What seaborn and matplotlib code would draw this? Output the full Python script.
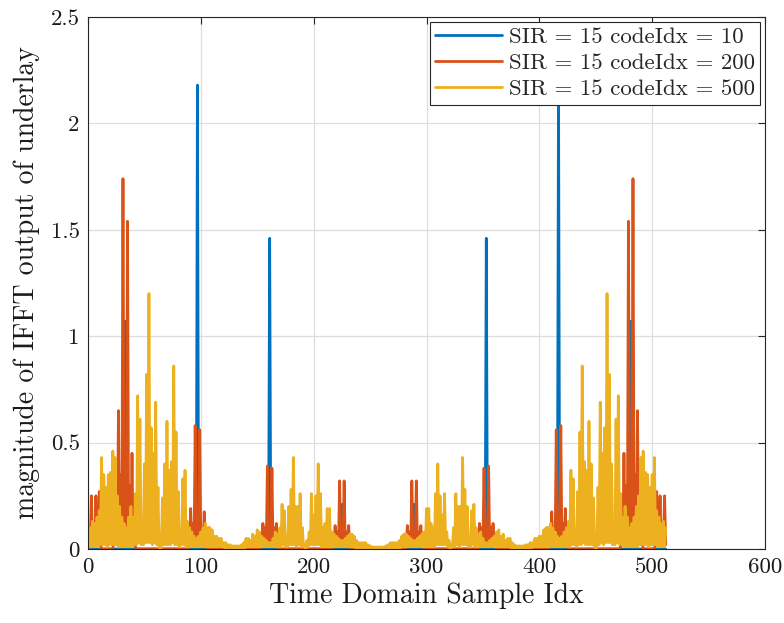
import numpy as np
import pandas as pd
import matplotlib
matplotlib.use("Agg")
import matplotlib.pyplot as plt
import seaborn as sns

# ---------------- data ----------------
series_labels = ["SIR = 15 codeIdx = 10",
                 "SIR = 15 codeIdx = 200",
                 "SIR = 15 codeIdx = 500"]
colors = ["#0072BD", "#D95319", "#EDB120"]
n_samples = 512

# codeIdx = 10 : sparse spikes (sample index -> magnitude), zero elsewhere
blue_idx = [33, 97, 161, 225, 289, 353, 417, 481]
blue_val = [1.07, 2.18, 1.46, 0.21, 0.21, 1.46, 2.18, 1.07]

# codeIdx = 200 : clusters of spikes (sample index -> magnitude), zero elsewhere
orange_idx = [2, 3, 4, 5, 6, 7, 8, 9, 10, 11,
              23, 24, 25, 26, 27, 28, 29, 30, 31, 32, 33, 34, 35, 36, 37, 38, 39, 40, 41, 42,
              89, 90, 91, 92, 93, 94, 95, 96, 97, 98, 99, 100, 101, 102, 103, 104, 105, 107,
              153, 154, 155, 156, 157, 158, 159, 160, 161, 162, 163, 164, 165, 166, 167, 168,
              217, 218, 219, 220, 221, 222, 223, 224, 225, 226, 227, 228, 229, 230, 231, 232,
              282, 283, 284, 285, 286, 287, 288, 289, 290, 291, 292, 293, 294, 295, 296, 297,
              346, 347, 348, 349, 350, 351, 352, 353, 354, 355, 356, 357, 358, 359, 360, 361,
              407, 409, 410, 411, 412, 413, 414, 415, 416, 417, 418, 419, 420, 421, 422, 423, 424, 425,
              472, 473, 474, 475, 476, 477, 478, 479, 480, 481, 482, 483, 484, 485, 486, 487, 488, 489, 490, 491,
              503, 504, 505, 506, 507, 508, 509, 510, 511, 512]
orange_val = [0.02, 0.25, 0.03, 0.12, 0.02, 0.25, 0.02, 0.05, 0.27, 0.02,
              0.05, 0.02, 0.20, 0.02, 0.65, 0.02, 0.35, 0.03, 1.74, 0.05, 0.02, 0.05, 1.54, 0.03, 0.30, 0.02, 0.45, 0.02, 0.10, 0.01,
              0.08, 0.01, 0.19, 0.01, 0.12, 0.02, 0.58, 0.03, 0.01, 0.03, 0.56, 0.02, 0.10, 0.01, 0.175, 0.01, 0.06, 0.10,
              0.04, 0.01, 0.12, 0.01, 0.10, 0.02, 0.39, 0.02, 0.01, 0.02, 0.38, 0.02, 0.10, 0.01, 0.12, 0.01,
              0.03, 0.01, 0.11, 0.01, 0.08, 0.01, 0.32, 0.02, 0.01, 0.02, 0.32, 0.01, 0.08, 0.01, 0.11, 0.01,
              0.01, 0.11, 0.01, 0.08, 0.01, 0.32, 0.02, 0.01, 0.02, 0.32, 0.01, 0.08, 0.01, 0.11, 0.01, 0.03,
              0.01, 0.12, 0.01, 0.10, 0.02, 0.38, 0.02, 0.01, 0.02, 0.39, 0.02, 0.10, 0.01, 0.12, 0.01, 0.04,
              0.10, 0.06, 0.01, 0.175, 0.01, 0.10, 0.02, 0.56, 0.03, 0.01, 0.03, 0.58, 0.02, 0.12, 0.01, 0.19, 0.01, 0.08,
              0.01, 0.10, 0.02, 0.45, 0.02, 0.30, 0.03, 1.54, 0.05, 0.02, 0.05, 1.74, 0.03, 0.35, 0.02, 0.65, 0.02, 0.20, 0.02, 0.05,
              0.02, 0.27, 0.05, 0.02, 0.25, 0.02, 0.12, 0.03, 0.25, 0.02]

# codeIdx = 500 : magnitude at every sample 1..512
yellow_val = [
    0.01, 0.10, 0.01, 0.13, 0.01, 0.12, 0.01, 0.15, 0.01, 0.18,
    0.02, 0.43, 0.02, 0.35, 0.02, 0.29, 0.01, 0.35, 0.02, 0.36,
    0.02, 0.46, 0.02, 0.43, 0.02, 0.25, 0.01, 0.20, 0.01, 0.15,
    0.01, 0.12, 0.01, 0.10, 0.01, 0.15, 0.01, 0.20, 0.01, 0.15,
    0.02, 0.26, 0.02, 0.72, 0.03, 0.61, 0.02, 0.10, 0.02, 0.40,
    0.03, 0.82, 0.03, 1.20, 0.03, 0.57, 0.02, 0.45, 0.03, 0.69,
    0.02, 0.29, 0.01, 0.00, 0.01, 0.24, 0.02, 0.40, 0.02, 0.60,
    0.02, 0.37, 0.02, 0.41, 0.03, 0.86, 0.02, 0.55, 0.02, 0.27,
    0.01, 0.08, 0.02, 0.33, 0.02, 0.37, 0.01, 0.13, 0.01, 0.10,
    0.01, 0.08, 0.01, 0.06, 0.01, 0.05, 0.01, 0.06, 0.01, 0.08,
    0.01, 0.10, 0.01, 0.12, 0.01, 0.10, 0.01, 0.10, 0.01, 0.09,
    0.01, 0.06, 0.01, 0.06, 0.01, 0.05, 0.01, 0.05, 0.01, 0.03,
    0.005, 0.03, 0.005, 0.02, 0.005, 0.02, 0.005, 0.015, 0.005, 0.015,
    0.005, 0.015, 0.005, 0.015, 0.005, 0.02, 0.005, 0.03, 0.005, 0.05,
    0.01, 0.05, 0.01, 0.04, 0.01, 0.07, 0.01, 0.06, 0.01, 0.09,
    0.01, 0.08, 0.01, 0.06, 0.01, 0.05, 0.01, 0.04, 0.01, 0.03,
    0.01, 0.03, 0.01, 0.05, 0.01, 0.08, 0.01, 0.07, 0.01, 0.10,
    0.01, 0.21, 0.02, 0.18, 0.01, 0.06, 0.01, 0.20, 0.02, 0.28,
    0.02, 0.43, 0.02, 0.20, 0.01, 0.20, 0.02, 0.26, 0.01, 0.10,
    0.01, 0.02, 0.00, 0.04, 0.01, 0.08, 0.02, 0.26, 0.02, 0.16,
    0.02, 0.25, 0.02, 0.40, 0.02, 0.26, 0.01, 0.10, 0.01, 0.12,
    0.01, 0.19, 0.01, 0.19, 0.01, 0.08, 0.01, 0.07, 0.01, 0.06,
    0.01, 0.05, 0.01, 0.04, 0.01, 0.04, 0.01, 0.05, 0.01, 0.06,
    0.01, 0.07, 0.01, 0.07, 0.01, 0.06, 0.005, 0.04, 0.005, 0.03,
    0.005, 0.03, 0.005, 0.03, 0.005, 0.03, 0.005, 0.02, 0.005, 0.015,
    0.005, 0.01, 0.005, 0.01, 0.005, 0.01, 0.005,
    0.01, 0.005, 0.01, 0.005, 0.01, 0.005,
    0.015, 0.005, 0.02, 0.005, 0.03, 0.005, 0.03, 0.005, 0.03, 0.005,
    0.03, 0.005, 0.04, 0.005, 0.06, 0.01, 0.07, 0.01, 0.07, 0.01,
    0.06, 0.01, 0.05, 0.01, 0.04, 0.01, 0.04, 0.01, 0.05, 0.01,
    0.06, 0.01, 0.07, 0.01, 0.08, 0.01, 0.19, 0.01, 0.19, 0.01,
    0.12, 0.01, 0.10, 0.01, 0.26, 0.02, 0.40, 0.02, 0.25, 0.02,
    0.16, 0.02, 0.26, 0.02, 0.08, 0.01, 0.04, 0.00, 0.02, 0.01,
    0.10, 0.01, 0.26, 0.02, 0.20, 0.01, 0.20, 0.02, 0.43, 0.02,
    0.28, 0.02, 0.20, 0.01, 0.06, 0.01, 0.18, 0.02, 0.21, 0.01,
    0.10, 0.01, 0.07, 0.01, 0.08, 0.01, 0.05, 0.01, 0.03, 0.01,
    0.03, 0.01, 0.04, 0.01, 0.05, 0.01, 0.06, 0.01, 0.08, 0.01,
    0.09, 0.01, 0.06, 0.01, 0.07, 0.01, 0.04, 0.01, 0.05, 0.01,
    0.05, 0.005, 0.03, 0.005, 0.02, 0.005, 0.015, 0.005, 0.015, 0.005,
    0.015, 0.005, 0.015, 0.005, 0.02, 0.005, 0.02, 0.005, 0.03, 0.005,
    0.03, 0.01, 0.05, 0.01, 0.05, 0.01, 0.06, 0.01, 0.06, 0.01,
    0.09, 0.01, 0.10, 0.01, 0.10, 0.01, 0.12, 0.01, 0.10, 0.01,
    0.08, 0.01, 0.06, 0.01, 0.05, 0.01, 0.06, 0.01, 0.08, 0.01,
    0.10, 0.01, 0.13, 0.01, 0.37, 0.02, 0.33, 0.02, 0.08, 0.01,
    0.27, 0.02, 0.55, 0.02, 0.86, 0.03, 0.41, 0.02, 0.37, 0.02,
    0.60, 0.02, 0.40, 0.02, 0.24, 0.01, 0.00, 0.01, 0.29, 0.02,
    0.69, 0.03, 0.45, 0.02, 0.57, 0.03, 1.20, 0.03, 0.82, 0.03,
    0.40, 0.02, 0.10, 0.02, 0.61, 0.03, 0.72, 0.02, 0.26, 0.02,
    0.15, 0.01, 0.20, 0.01, 0.15, 0.01, 0.10, 0.01, 0.12, 0.01,
    0.15, 0.01, 0.20, 0.01, 0.25, 0.02, 0.43, 0.02, 0.46, 0.02,
    0.36, 0.02, 0.35, 0.01, 0.29, 0.02, 0.35, 0.02, 0.43, 0.02,
    0.18, 0.01, 0.15, 0.01, 0.12, 0.01, 0.13, 0.01, 0.10,
]

x_ticks = [0, 100, 200, 300, 400, 500, 600]
x_ticklabels = ["0", "100", "200", "300", "400", "500", "600"]
y_ticks = [0, 0.5, 1, 1.5, 2, 2.5]
y_ticklabels = ["0", "0.5", "1", "1.5", "2", "2.5"]

# ---------------- build table ----------------
sample_idx = np.arange(1, n_samples + 1)
blue = np.zeros(n_samples)
blue[np.array(blue_idx) - 1] = blue_val
orange = np.zeros(n_samples)
orange[np.array(orange_idx) - 1] = orange_val
yellow = np.asarray(yellow_val, dtype=float)
assert len(yellow) == n_samples, len(yellow)
assert len(orange_idx) == len(orange_val)

df = pd.concat([
    pd.DataFrame({"x": sample_idx, "y": vals, "series": lab})
    for vals, lab in zip([blue, orange, yellow], series_labels)
], ignore_index=True)

# ---------------- style ----------------
sns.set_theme(style="white")
plt.rcParams["font.family"] = ["cmr10", "DejaVu Serif"]
plt.rcParams["axes.unicode_minus"] = False
plt.rcParams["mathtext.fontset"] = "cm"

fig = plt.figure(figsize=(7.84, 6.23), dpi=100)
ax = fig.add_axes([88 / 784, 1 - 549 / 623, (765 - 88) / 784, (549 - 17) / 623])

sns.lineplot(data=df, x="x", y="y", hue="series", hue_order=series_labels,
             palette=dict(zip(series_labels, colors)), estimator=None,
             sort=False, linewidth=2.0, ax=ax, legend=True)

ax.set_xlim(0, 600)
ax.set_ylim(0, 2.5)
ax.set_xticks(x_ticks)
ax.set_xticklabels(x_ticklabels)
ax.set_yticks(y_ticks)
ax.set_yticklabels(y_ticklabels)
ax.grid(True, color="#dedede", linewidth=0.9)
ax.set_axisbelow(True)
for s in ax.spines.values():
    s.set_color("#262626")
    s.set_linewidth(0.8)
ax.tick_params(axis="both", direction="in", length=5, width=0.8,
               color="#262626", labelsize=16.5, labelcolor="#1a1a1a",
               top=True, right=True, pad=6)
ax.set_xlabel("Time Domain Sample Idx", fontsize=20, color="#1a1a1a", labelpad=4)
ax.set_ylabel("magnitude of IFFT output of underlay", fontsize=20,
              color="#1a1a1a", labelpad=8)

handles, labels = ax.get_legend_handles_labels()
leg = ax.legend(handles, labels, loc="upper right", bbox_to_anchor=(1.0, 1.0),
                borderaxespad=0.2, fontsize=16.5, frameon=True, fancybox=False,
                edgecolor="#262626", framealpha=1, handlelength=2.9,
                labelspacing=0.25, borderpad=0.25, handletextpad=0.3)
leg.get_frame().set_linewidth(0.8)
for h in leg.get_lines():
    h.set_linewidth(2.0)

fig.savefig("out.png", dpi=100)
